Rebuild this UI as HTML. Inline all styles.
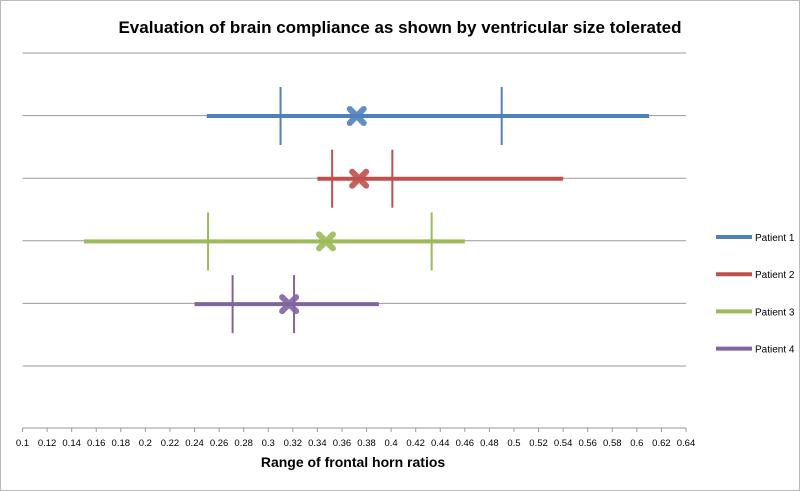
<!DOCTYPE html>
<html><head><meta charset="utf-8"><style>
html,body{margin:0;padding:0;background:#fff;}
svg{display:block;font-family:"Liberation Sans",sans-serif;}
</style></head><body>
<svg id="chart" width="800" height="491">
<rect x="0.5" y="0.5" width="799" height="490" fill="#fff" stroke="#bbb"/>
<text x="400" y="33" text-anchor="middle" font-size="17" font-weight="bold" fill="#000">Evaluation of brain compliance as shown by ventricular size tolerated</text>
<text x="353" y="467" text-anchor="middle" font-size="14" font-weight="bold" fill="#000">Range of frontal horn ratios</text>
<g id="grid"></g><g id="axis"></g><g id="series"></g><g id="legend"></g>
</svg>
<script>
const patients = ["Patient 1","Patient 2","Patient 3","Patient 4"];
const rangeMin = [0.25,0.34,0.15,0.24];
const rangeMax = [0.61,0.54,0.46,0.39];
const tickLow = [0.31,0.352,0.251,0.271];
const tickHigh = [0.49,0.401,0.433,0.321];
const markVal = [0.372,0.374,0.347,0.317];
const xTicks = [0.1,0.12,0.14,0.16,0.18,0.2,0.22,0.24,0.26,0.28,0.3,0.32,0.34,0.36,0.38,0.4,0.42,0.44,0.46,0.48,0.5,0.52,0.54,0.56,0.58,0.6,0.62,0.64];
const colors = ["#4F81BD","#C0504D","#9BBB59","#8064A2"];
const NS="http://www.w3.org/2000/svg";
const X0=22.5,X1=686,XMIN=0.1,XMAX=0.64;
const x=v=>X0+(v-XMIN)/(XMAX-XMIN)*(X1-X0);
const rowY=i=>116+i*62.7;
function mk(tag,attrs,parent){const e=document.createElementNS(NS,tag);for(const k in attrs)e.setAttribute(k,attrs[k]);document.getElementById(parent).appendChild(e);return e;}
for(let i=0;i<6;i++){const y=53+i*62.6;
const g=mk('line',{x1:X0,x2:X1,y1:y,y2:y,stroke:'#999','stroke-width':1},'grid');

}
const ax=mk('line',{x1:X0,x2:X1,y1:428,y2:428,stroke:'#999','stroke-width':1},'axis');


xTicks.forEach(t=>{const tx=x(t);
const tk=mk('line',{x1:tx,x2:tx,y1:428,y2:432,stroke:'#999'},'axis');


const lb=mk('text',{x:tx,y:446,'text-anchor':'middle','font-size':9.5,fill:'#000'},'axis');
lb.textContent=String(t);

});
patients.forEach((p,i)=>{const y=rowY(i),c=colors[i];
const r=mk('line',{x1:x(rangeMin[i]),x2:x(rangeMax[i]),y1:y,y2:y,stroke:c,'stroke-width':4},'series');


[tickLow[i],tickHigh[i]].forEach(v=>{
const t=mk('line',{x1:x(v),x2:x(v),y1:y-29,y2:y+29,stroke:c,'stroke-width':2},'series');

});
const m=mk('path',{d:`M${x(markVal[i])-7},${y-7}L${x(markVal[i])+7},${y+7}M${x(markVal[i])+7},${y-7}L${x(markVal[i])-7},${y+7}`,stroke:c,'stroke-width':6,'stroke-linecap':'round',opacity:0.9},'series');


const ly=237+i*37.2;
const ll=mk('line',{x1:716,x2:752,y1:ly,y2:ly,stroke:c,'stroke-width':4},'legend');


const lt=mk('text',{x:755,y:ly+4,'font-size':10,fill:'#000'},'legend');
lt.textContent=p;

});
</script>
</body></html>
